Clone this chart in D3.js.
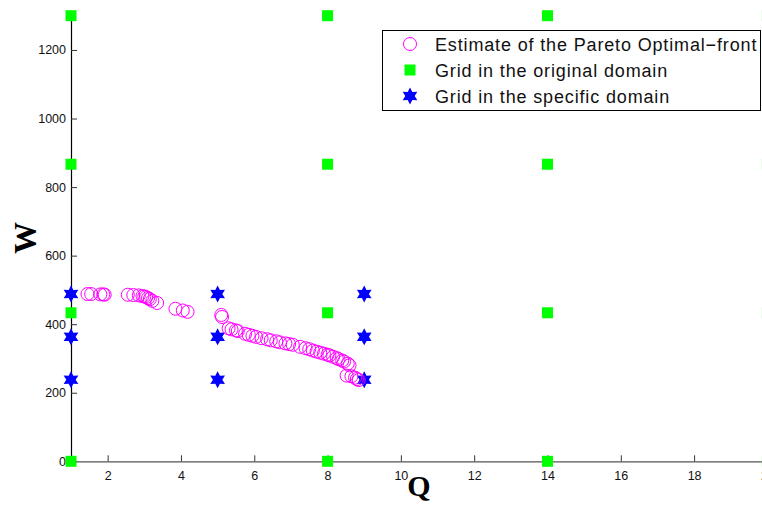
<!DOCTYPE html>
<html>
<head>
<meta charset="utf-8">
<script src="https://cdn.jsdelivr.net/npm/d3@7"></script>
<style>
  html, body { margin: 0; padding: 0; background: #fff; }
  svg { display: block; }
</style>
</head>
<body>
<svg id="chart" width="762" height="507"></svg>
<script>
// Pareto front estimate (Q, W)
const frontQ = [1.45, 1.55, 1.80, 1.88, 1.92, 2.55, 2.70, 2.85, 2.95, 3.00, 3.05, 3.10, 3.15, 3.22, 3.35,
  3.85, 4.05, 4.18, 5.10, 5.12,
  5.30, 5.38, 5.50, 5.55, 5.75, 5.85, 5.95, 6.05, 6.20, 6.35, 6.45, 6.60, 6.70, 6.85, 6.95, 7.05,
  7.25, 7.40, 7.50, 7.60, 7.70, 7.80, 7.90, 8.00, 8.05, 8.15, 8.25, 8.30, 8.40, 8.45, 8.55, 8.60,
  8.52, 8.65, 8.75, 8.80, 8.85];
const frontW = [488, 488, 487, 487, 486, 486, 485, 484, 482, 481, 479, 476, 473, 468, 462,
  445, 440, 436, 427, 421,
  388, 385, 382, 380, 372, 369, 366, 363, 359, 356, 353, 350, 347, 344, 342, 340,
  334, 330, 327, 323, 320, 317, 314, 311, 309, 305, 301, 298, 294, 291, 285, 280,
  250, 248, 244, 240, 237];

// Grid in the original domain
const origQ = [1, 8, 14, 20];
const origW = [0, 433.33, 866.67, 1300];

// Grid in the specific domain
const specQ = [1, 5, 9];
const specW = [238, 363, 488];

const xTicks = [2, 4, 6, 8, 10, 12, 14, 16, 18, 20];
const yTicks = [0, 200, 400, 600, 800, 1000, 1200];

const legendLabels = ["Estimate of the Pareto Optimal\u2212front", "Grid in the original domain", "Grid in the specific domain"];

const svg = d3.select("#chart");
const x = d3.scaleLinear().domain([1, 20]).range([71, 767.4]);
const y = d3.scaleLinear().domain([0, 1300]).range([461.3, 15.7]);

const tickFont = "Liberation Sans, Arial, Helvetica, sans-serif";

// 6-pointed star path
function hexagram(r) {
  const pts = [];
  for (let i = 0; i < 12; i++) {
    const a = -Math.PI / 2 + i * Math.PI / 6;
    const rr = i % 2 === 0 ? r : r * 0.55;
    pts.push([rr * Math.cos(a), rr * Math.sin(a)]);
  }
  return "M" + pts.map(p => p[0].toFixed(2) + "," + p[1].toFixed(2)).join("L") + "Z";
}
const starPath = hexagram(8.5);

// Axes
const xAxis = svg.append("g").attr("transform", `translate(0,${y(0)})`)
  .call(d3.axisBottom(x).tickValues(xTicks).tickFormat(d3.format("d"))
    .tickSizeInner(-6).tickSizeOuter(0).tickPadding(10));
xAxis.select(".domain").attr("stroke", "#555").attr("stroke-width", 1.2);
xAxis.selectAll(".tick line").attr("stroke", "#333");
xAxis.selectAll("text").attr("font-family", tickFont).attr("font-size", 12.5).attr("fill", "#111");

const yAxis = svg.append("g").attr("transform", `translate(${x(1)},0)`)
  .call(d3.axisLeft(y).tickValues(yTicks).tickFormat(d3.format("d"))
    .tickSizeInner(-6).tickSizeOuter(0).tickPadding(5));
yAxis.select(".domain").attr("stroke", "#000").attr("stroke-width", 1.2);
yAxis.selectAll(".tick line").attr("stroke", "#333");
yAxis.selectAll("text").attr("font-family", tickFont).attr("font-size", 12.5).attr("fill", "#111");

// Green squares
const origPts = [];
origQ.forEach(q => origW.forEach(w => origPts.push([q, w])));
svg.append("g").selectAll("rect").data(origPts).join("rect")
  .attr("x", d => x(d[0]) - 5.5).attr("y", d => y(d[1]) - 5.5)
  .attr("width", 11).attr("height", 11).attr("fill", "#00ff00");

// Blue stars
const specPts = [];
specQ.forEach(q => specW.forEach(w => specPts.push([q, w])));
svg.append("g").selectAll("path").data(specPts).join("path")
  .attr("d", starPath)
  .attr("transform", d => `translate(${x(d[0])},${y(d[1])})`)
  .attr("fill", "#0000ff");

// Pareto front circles
svg.append("g").selectAll("circle").data(frontQ.map((q, i) => [q, frontW[i]])).join("circle")
  .attr("cx", d => x(d[0])).attr("cy", d => y(d[1])).attr("r", 6.5)
  .attr("fill", "none").attr("stroke", "#ff00ff").attr("stroke-width", 1);

// Axis labels
svg.append("text").attr("x", 419).attr("y", 496).attr("text-anchor", "middle")
  .attr("font-family", "Liberation Serif, Times New Roman, serif").attr("font-weight", "bold")
  .attr("font-size", 30).text("Q");
svg.append("text").attr("transform", "translate(36,238) rotate(-90)").attr("text-anchor", "middle")
  .attr("font-family", "Liberation Serif, Times New Roman, serif").attr("font-weight", "bold")
  .attr("font-size", 32).text("W");

// Legend
const lg = svg.append("g");
lg.append("rect").attr("x", 382.5).attr("y", 30.5).attr("width", 378).attr("height", 80)
  .attr("fill", "#fff").attr("stroke", "#000").attr("stroke-width", 1);
const rowY = [44, 70, 96];
lg.append("circle").attr("cx", 410).attr("cy", rowY[0]).attr("r", 6.5)
  .attr("fill", "none").attr("stroke", "#ff00ff").attr("stroke-width", 1);
lg.append("rect").attr("x", 410 - 5.5).attr("y", rowY[1] - 5.5).attr("width", 11).attr("height", 11)
  .attr("fill", "#00ff00");
lg.append("path").attr("d", starPath).attr("transform", `translate(410,${rowY[2]})`).attr("fill", "#0000ff");
lg.selectAll("text.lab").data(legendLabels).join("text").attr("class", "lab")
  .attr("x", 435).attr("y", (d, i) => rowY[i] + 6.5)
  .attr("font-family", tickFont).attr("font-size", 18).attr("letter-spacing", 0.85).attr("fill", "#111")
  .text(d => d);
</script>
</body>
</html>
